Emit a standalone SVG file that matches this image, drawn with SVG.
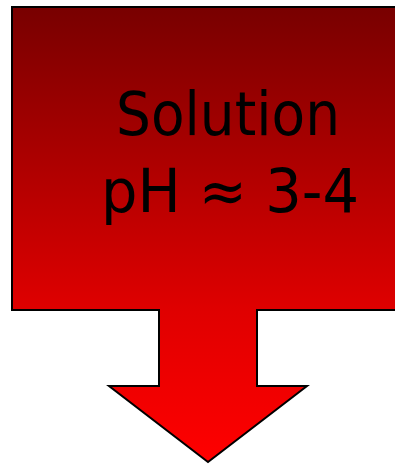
<svg xmlns="http://www.w3.org/2000/svg" width="395" height="464" viewBox="0 0 395 464">
<defs>
<linearGradient id="g" gradientUnits="userSpaceOnUse" x1="0" y1="7" x2="0" y2="462">
<stop offset="0" stop-color="#780000"/>
<stop offset="0.67" stop-color="#E00000"/>
<stop offset="1" stop-color="#FF0000"/>
</linearGradient>
</defs>
<style>
.t{font-family:"DejaVu Sans","Liberation Sans",sans-serif;font-size:60px;fill:#000;text-anchor:middle}
</style>
<g id="callout">
<path d="M12,7 H400 V310 H257 V386 H307 L208,462 L109,386 H159 V310 H12 Z" fill="url(#g)" stroke="#000" stroke-width="2" stroke-linejoin="miter"/>
<text class="t" x="228" y="135" textLength="224" lengthAdjust="spacingAndGlyphs">Solution</text>
<text class="t" x="230" y="212" textLength="258" lengthAdjust="spacingAndGlyphs">pH ≈ 3-4</text>
</g>
</svg>
